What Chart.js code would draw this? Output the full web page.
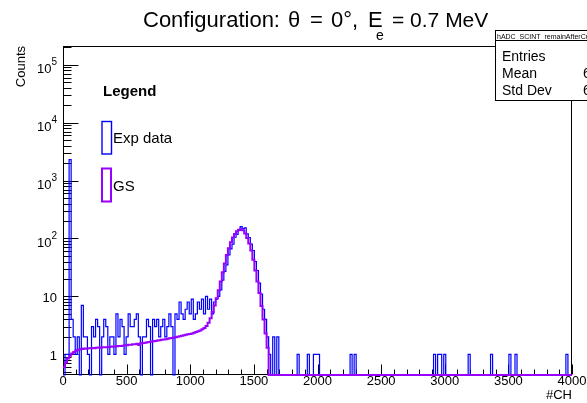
<!DOCTYPE html>
<html>
<head>
<meta charset="utf-8">
<script src="https://cdn.jsdelivr.net/npm/chart.js@4/dist/chart.umd.min.js"></script>
<style>
  html, body { margin: 0; padding: 0; background: #fff; overflow: hidden; }
  canvas { display: block; }
</style>
</head>
<body>
<canvas id="c" width="587" height="403"></canvas>
<script>
// Histogram binning: 16 channels per bin over 0..4000
const BIN_WIDTH = 16;
const X_MIN = 0;
const X_MAX = 4000;
const Y_MIN = 0.44;
const Y_MAX = 2.1e5;

// Measured spectrum, bins 0..105 (channel = bin * 16)
const expCountsLow = [
  0, 1, 1, 2300, 4, 2, 1, 2, 0, 7,
  2, 2, 1, 0, 3, 2, 4, 3, 0, 2,
  4, 3, 1, 2, 2, 1, 5, 2, 4, 3,
  1, 2, 5, 3, 3, 4, 5, 2, 0, 2,
  2, 4, 3, 0, 4, 3, 4, 2, 3, 4,
  2, 3, 5, 3, 0, 5, 4, 8, 5, 4,
  6, 8, 5, 9, 4, 5, 8, 6, 9, 5,
  10, 6, 9, 5, 8, 9, 10, 13, 19, 27,
  35, 52, 66, 80, 105, 118, 138, 160, 148, 152,
  120, 104, 80, 62, 40, 28, 17, 11, 6, 4,
  2, 1, 0, 2, 0, 2
];

// Isolated single counts above the peak: [channel, counts]
const expTail = [
  [1840, 1], [1920, 1], [1968, 1], [1984, 1], [2000, 1],
  [2256, 1], [2288, 1], [2912, 1], [2944, 1], [2960, 1],
  [2992, 1], [3184, 1], [3360, 1], [3504, 1], [3552, 1],
  [3952, 1]
];

// Simulated GS response, bins 0..101 (zero above)
const gsCounts = [
  0.6, 0.72, 0.85, 0.95, 1.03, 1.1, 1.15, 1.19, 1.22, 1.24,
  1.26, 1.25, 1.27, 1.28, 1.29, 1.28, 1.3, 1.31, 1.3, 1.32,
  1.33, 1.32, 1.34, 1.35, 1.36, 1.36, 1.38, 1.39, 1.4, 1.41,
  1.43, 1.44, 1.46, 1.47, 1.49, 1.5, 1.52, 1.45, 1.55, 1.57,
  1.59, 1.61, 1.63, 1.66, 1.68, 1.7, 1.73, 1.75, 1.78, 1.8,
  1.83, 1.86, 1.89, 1.92, 1.95, 1.98, 2.02, 2.05, 2.09, 2.13,
  2.18, 2.22, 2.25, 2.3, 2.35, 2.42, 2.5, 2.58, 2.7, 2.85,
  3.1, 3.5, 4.2, 5.4, 7.0, 9.3, 12.8, 18, 26, 37,
  52, 68, 86, 104, 120, 133, 141, 144, 138, 122,
  102, 82, 62, 43, 28, 18, 11.5, 6.8, 4.0, 2.3,
  1.3, 0
];

// Axis labels
const xTickValues = [0, 500, 1000, 1500, 2000, 2500, 3000, 3500, 4000];
const xTickLabels = ['0', '500', '1000', '1500', '2000', '2500', '3000', '3500', '4000'];
const yTickValues = [1, 10, 100, 1000, 10000, 100000];
const yTickLabels = ['1', '10', '10^2', '10^3', '10^4', '10^5'];

// Title pieces: ROOT-style spacing around the Greek letter and the subscript
const titlePieces = [
  { text: 'Configuration:', x: 143, dy: 0, size: 22 },
  { text: '\u03B8', x: 288, dy: 0, size: 22 },
  { text: '=', x: 310, dy: 0, size: 22 },
  { text: '0\u00B0,', x: 331, dy: 0, size: 22 },
  { text: 'E', x: 368, dy: 0, size: 22 },
  { text: 'e', x: 376, dy: 13, size: 14 },
  { text: '= 0.7 MeV', x: 392, dy: 0, size: 21 }
];
const xAxisTitle = '#CH';
const yAxisTitle = 'Counts';
const histName = 'hADC_SCINT_remainAfterCuts';
const legendTitle = 'Legend';
const seriesNames = ['Exp data', 'GS'];
const seriesColors = ['#0000ff', '#9900ff'];

const NBINS = Math.round((X_MAX - X_MIN) / BIN_WIDTH);

function fillBins(values, extra) {
  const bins = new Array(NBINS).fill(0);
  values.forEach((v, i) => { bins[i] = v; });
  (extra || []).forEach(([ch, n]) => { bins[Math.floor(ch / BIN_WIDTH)] += n; });
  return bins;
}
const expBins = fillBins(expCountsLow, expTail);
const gsBins = fillBins(gsCounts);

// Step outline: one point per lower bin edge, plus the closing upper edge.
// Empty bins sit on the lower frame edge, as in a log-scale histogram.
function histPoints(bins) {
  const pts = bins.map((c, i) => ({ x: X_MIN + i * BIN_WIDTH, y: Math.max(c, Y_MIN) }));
  pts.push({ x: X_MIN + bins.length * BIN_WIDTH, y: Math.max(bins[bins.length - 1], Y_MIN) });
  return pts;
}

// Stats box values from the measured spectrum
function histStats(bins) {
  let n = 0, s = 0, s2 = 0;
  bins.forEach((c, i) => {
    const xc = X_MIN + (i + 0.5) * BIN_WIDTH;
    n += c; s += c * xc; s2 += c * xc * xc;
  });
  const mean = s / n;
  return { entries: n, mean, std: Math.sqrt(s2 / n - mean * mean) };
}
const stats = histStats(expBins);

const FONT = '"Liberation Sans", Arial, Helvetica, sans-serif';

const rootFrame = {
  id: 'rootFrame',
  beforeDatasetsDraw(chart) {
    const { ctx, chartArea: a, scales: { x, y } } = chart;
    const L = Math.round(a.left) + 0.5, R = Math.round(a.right) - 0.5;
    const T = Math.round(a.top) + 0.5, B = Math.round(a.bottom) - 0.5;
    ctx.save();
    ctx.strokeStyle = '#000';
    ctx.lineWidth = 1;
    ctx.strokeRect(L, T, R - L, B - T);

    // x ticks: primary every 500, secondary every 100
    ctx.beginPath();
    for (let v = X_MIN; v <= X_MAX; v += 100) {
      const px = Math.round(x.getPixelForValue(v)) + 0.5;
      const len = v % 500 === 0 ? 10 : 5;
      ctx.moveTo(px, B);
      ctx.lineTo(px, B - len);
    }
    // y ticks: decades long, 2..9 short
    for (let d = -1; d <= 5; d++) {
      for (let m = 1; m <= 9; m++) {
        const v = m * Math.pow(10, d);
        if (v < Y_MIN || v > Y_MAX) continue;
        const py = Math.round(y.getPixelForValue(v)) + 0.5;
        const len = m === 1 ? 15 : 8;
        ctx.moveTo(L, py);
        ctx.lineTo(L + len, py);
      }
    }
    ctx.stroke();
    ctx.restore();
  },
  afterDraw(chart) {
    const { ctx, chartArea: a, scales: { x, y } } = chart;
    ctx.save();
    ctx.fillStyle = '#000';
    ctx.textBaseline = 'alphabetic';

    // x tick labels
    ctx.font = '13px ' + FONT;
    ctx.textAlign = 'center';
    xTickValues.forEach((v, i) => {
      ctx.fillText(xTickLabels[i], x.getPixelForValue(v), a.bottom + 10);
    });

    // y tick labels (10^n with raised exponent)
    ctx.textAlign = 'right';
    yTickValues.forEach((v, i) => {
      const py = y.getPixelForValue(v);
      const parts = yTickLabels[i].split('^');
      const right = a.left - 6;
      if (parts.length === 1) {
        ctx.font = '13px ' + FONT;
        ctx.fillText(parts[0], right, py + 5.5);
      } else {
        ctx.font = '10px ' + FONT;
        const ew = ctx.measureText(parts[1]).width;
        ctx.fillText(parts[1], right, py + 0.5);
        ctx.font = '13px ' + FONT;
        ctx.fillText(parts[0], right - ew, py + 8.5);
      }
    });

    // axis titles
    ctx.font = '13px ' + FONT;
    ctx.textAlign = 'right';
    ctx.fillText(xAxisTitle, a.right, 399);
    ctx.save();
    ctx.translate(25, a.top);
    ctx.rotate(-Math.PI / 2);
    ctx.textAlign = 'right';
    ctx.fillText(yAxisTitle, 0, 0);
    ctx.restore();

    // title
    ctx.textAlign = 'left';
    titlePieces.forEach(p => {
      ctx.font = p.size + 'px ' + FONT;
      ctx.fillText(p.text, p.x, 27 + p.dy);
    });

    // legend
    ctx.font = 'bold 15px ' + FONT;
    ctx.fillText(legendTitle, 103, 96);
    ctx.font = '15px ' + FONT;
    ctx.strokeStyle = seriesColors[0];
    ctx.lineWidth = 1.4;
    ctx.strokeRect(102, 121.5, 9.5, 32.5);
    ctx.fillText(seriesNames[0], 113, 142.5);
    ctx.strokeStyle = seriesColors[1];
    ctx.lineWidth = 2;
    ctx.strokeRect(102, 168.5, 9, 33);
    ctx.fillText(seriesNames[1], 113, 191);

    // stats box
    const bx = 495.5, by = 30.5, bw = 130, bh = 70;
    ctx.fillStyle = '#fff';
    ctx.fillRect(bx, by, bw, bh);
    ctx.strokeStyle = '#000';
    ctx.lineWidth = 1;
    ctx.strokeRect(bx, by, bw, bh);
    ctx.beginPath();
    ctx.moveTo(bx, 40.5);
    ctx.lineTo(bx + bw, 40.5);
    ctx.stroke();
    ctx.fillStyle = '#000';
    ctx.font = '7px ' + FONT;
    ctx.textAlign = 'left';
    ctx.fillText(histName, 497, 38.5);
    ctx.font = '14px ' + FONT;
    const rows = [
      ['Entries', String(Math.round(stats.entries))],
      ['Mean', stats.mean.toPrecision(4)],
      ['Std Dev', stats.std.toPrecision(4)]
    ];
    rows.forEach(([k, v], i) => {
      const base = 61 + i * 17;
      ctx.textAlign = 'left';
      ctx.fillText(k, 502, base);
      ctx.textAlign = 'right';
      ctx.fillText(v, 618, base);
    });
    ctx.restore();
  }
};

new Chart(document.getElementById('c'), {
  type: 'line',
  data: {
    datasets: [
      {
        label: seriesNames[0],
        data: histPoints(expBins),
        borderColor: seriesColors[0],
        borderWidth: 1.2,
        stepped: true,
        pointRadius: 0,
        fill: false,
        order: 1,
        clip: { left: 0, top: 0, right: 0, bottom: 1 }
      },
      {
        label: seriesNames[1],
        data: histPoints(gsBins),
        borderColor: seriesColors[1],
        borderWidth: 2,
        stepped: true,
        pointRadius: 0,
        fill: false,
        order: 0,
        clip: { left: 0, top: 0, right: 0, bottom: 1 }
      }
    ]
  },
  options: {
    responsive: false,
    animation: false,
    devicePixelRatio: 1,
    events: [],
    layout: { padding: { left: 63, right: 15, top: 46, bottom: 28 } },
    scales: {
      x: { type: 'linear', min: X_MIN, max: X_MAX, display: false },
      y: { type: 'logarithmic', min: Y_MIN, max: Y_MAX, display: false }
    },
    plugins: {
      legend: { display: false },
      title: { display: false },
      tooltip: { enabled: false }
    }
  },
  plugins: [rootFrame]
});
</script>
</body>
</html>
